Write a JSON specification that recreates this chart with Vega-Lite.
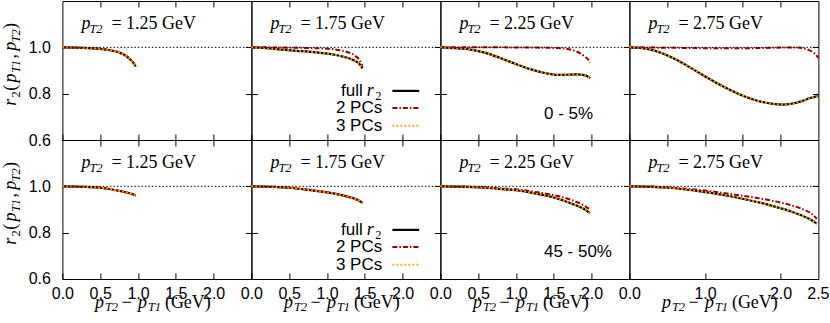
{
"$schema":"https://vega.github.io/schema/vega-lite/v6.json",
"padding":{"left":1.4,"top":0,"right":12,"bottom":4},
"bounds":"flush",
"spacing":0,
"columns":4,
"datasets":{"d":[
{"c":"a","p":1.25,"x":0,"f":1,"q2":1,"q3":1},
{"c":"a","p":1.25,"x":0.25,"f":0.998,"q2":0.998,"q3":0.998},
{"c":"a","p":1.25,"x":0.5,"f":0.993,"q2":0.993,"q3":0.993},
{"c":"a","p":1.25,"x":0.6,"f":0.989,"q2":0.989,"q3":0.989},
{"c":"a","p":1.25,"x":0.7,"f":0.983,"q2":0.983,"q3":0.983},
{"c":"a","p":1.25,"x":0.76,"f":0.977,"q2":0.977,"q3":0.977},
{"c":"a","p":1.25,"x":0.8,"f":0.971,"q2":0.971,"q3":0.971},
{"c":"a","p":1.25,"x":0.85,"f":0.961,"q2":0.961,"q3":0.961},
{"c":"a","p":1.25,"x":0.9,"f":0.947,"q2":0.947,"q3":0.947},
{"c":"a","p":1.25,"x":0.94,"f":0.933,"q2":0.933,"q3":0.933},
{"c":"a","p":1.25,"x":0.97,"f":0.917,"q2":0.917,"q3":0.917},
{"c":"a","p":1.75,"x":0,"f":1,"q2":1,"q3":1},
{"c":"a","p":1.75,"x":0.2,"f":0.996,"q2":1,"q3":0.996},
{"c":"a","p":1.75,"x":0.4,"f":0.99,"q2":0.999,"q3":0.99},
{"c":"a","p":1.75,"x":0.6,"f":0.985,"q2":0.998,"q3":0.985},
{"c":"a","p":1.75,"x":0.86,"f":0.978,"q2":0.996,"q3":0.978},
{"c":"a","p":1.75,"x":1.0,"f":0.973,"q2":0.994,"q3":0.973},
{"c":"a","p":1.75,"x":1.1,"f":0.968,"q2":0.991,"q3":0.968},
{"c":"a","p":1.75,"x":1.21,"f":0.96,"q2":0.985,"q3":0.96},
{"c":"a","p":1.75,"x":1.3,"f":0.952,"q2":0.976,"q3":0.952},
{"c":"a","p":1.75,"x":1.38,"f":0.94,"q2":0.962,"q3":0.94},
{"c":"a","p":1.75,"x":1.43,"f":0.928,"q2":0.945,"q3":0.928},
{"c":"a","p":1.75,"x":1.47,"f":0.909,"q2":0.918,"q3":0.909},
{"c":"a","p":2.25,"x":0,"f":1,"q2":1,"q3":1},
{"c":"a","p":2.25,"x":0.2,"f":0.996,"q2":1,"q3":0.996},
{"c":"a","p":2.25,"x":0.4,"f":0.99,"q2":1,"q3":0.99},
{"c":"a","p":2.25,"x":0.6,"f":0.976,"q2":1,"q3":0.976},
{"c":"a","p":2.25,"x":0.8,"f":0.953,"q2":1,"q3":0.953},
{"c":"a","p":2.25,"x":1.0,"f":0.928,"q2":0.999,"q3":0.928},
{"c":"a","p":2.25,"x":1.2,"f":0.905,"q2":0.999,"q3":0.905},
{"c":"a","p":2.25,"x":1.4,"f":0.888,"q2":0.998,"q3":0.888},
{"c":"a","p":2.25,"x":1.55,"f":0.881,"q2":0.997,"q3":0.881},
{"c":"a","p":2.25,"x":1.7,"f":0.882,"q2":0.992,"q3":0.882},
{"c":"a","p":2.25,"x":1.8,"f":0.883,"q2":0.982,"q3":0.883},
{"c":"a","p":2.25,"x":1.9,"f":0.88,"q2":0.963,"q3":0.88},
{"c":"a","p":2.25,"x":1.95,"f":0.874,"q2":0.949,"q3":0.874},
{"c":"a","p":2.25,"x":1.98,"f":0.867,"q2":0.934,"q3":0.867},
{"c":"a","p":2.75,"x":0,"f":1,"q2":1,"q3":1},
{"c":"a","p":2.75,"x":0.15,"f":0.997,"q2":1,"q3":0.997},
{"c":"a","p":2.75,"x":0.31,"f":0.988,"q2":0.999,"q3":0.988},
{"c":"a","p":2.75,"x":0.57,"f":0.955,"q2":0.998,"q3":0.955},
{"c":"a","p":2.75,"x":0.84,"f":0.906,"q2":0.997,"q3":0.906},
{"c":"a","p":2.75,"x":1.06,"f":0.863,"q2":0.996,"q3":0.863},
{"c":"a","p":2.75,"x":1.28,"f":0.824,"q2":0.996,"q3":0.824},
{"c":"a","p":2.75,"x":1.5,"f":0.791,"q2":0.996,"q3":0.791},
{"c":"a","p":2.75,"x":1.72,"f":0.767,"q2":0.997,"q3":0.767},
{"c":"a","p":2.75,"x":1.9,"f":0.756,"q2":0.998,"q3":0.756},
{"c":"a","p":2.75,"x":2.03,"f":0.753,"q2":0.999,"q3":0.753},
{"c":"a","p":2.75,"x":2.21,"f":0.761,"q2":0.999,"q3":0.761},
{"c":"a","p":2.75,"x":2.3,"f":0.77,"q2":0.996,"q3":0.77},
{"c":"a","p":2.75,"x":2.39,"f":0.781,"q2":0.986,"q3":0.781},
{"c":"a","p":2.75,"x":2.45,"f":0.786,"q2":0.973,"q3":0.786},
{"c":"a","p":2.75,"x":2.5,"f":0.79,"q2":0.955,"q3":0.79},
{"c":"b","p":1.25,"x":0,"f":1,"q2":1,"q3":1},
{"c":"b","p":1.25,"x":0.25,"f":0.998,"q2":0.998,"q3":0.998},
{"c":"b","p":1.25,"x":0.5,"f":0.994,"q2":0.994,"q3":0.994},
{"c":"b","p":1.25,"x":0.76,"f":0.98,"q2":0.98,"q3":0.98},
{"c":"b","p":1.25,"x":0.9,"f":0.969,"q2":0.969,"q3":0.969},
{"c":"b","p":1.25,"x":0.97,"f":0.961,"q2":0.961,"q3":0.961},
{"c":"b","p":1.75,"x":0,"f":1,"q2":1,"q3":1},
{"c":"b","p":1.75,"x":0.25,"f":0.998,"q2":0.998,"q3":0.998},
{"c":"b","p":1.75,"x":0.5,"f":0.994,"q2":0.994,"q3":0.994},
{"c":"b","p":1.75,"x":0.75,"f":0.985,"q2":0.985,"q3":0.985},
{"c":"b","p":1.75,"x":1.0,"f":0.974,"q2":0.974,"q3":0.974},
{"c":"b","p":1.75,"x":1.15,"f":0.965,"q2":0.965,"q3":0.965},
{"c":"b","p":1.75,"x":1.3,"f":0.953,"q2":0.953,"q3":0.953},
{"c":"b","p":1.75,"x":1.4,"f":0.942,"q2":0.942,"q3":0.942},
{"c":"b","p":1.75,"x":1.47,"f":0.929,"q2":0.929,"q3":0.929},
{"c":"b","p":2.25,"x":0,"f":1,"q2":1,"q3":1},
{"c":"b","p":2.25,"x":0.3,"f":0.998,"q2":0.999,"q3":0.998},
{"c":"b","p":2.25,"x":0.61,"f":0.994,"q2":0.995,"q3":0.994},
{"c":"b","p":2.25,"x":0.85,"f":0.987,"q2":0.99,"q3":0.987},
{"c":"b","p":2.25,"x":1.05,"f":0.981,"q2":0.986,"q3":0.981},
{"c":"b","p":2.25,"x":1.25,"f":0.969,"q2":0.976,"q3":0.969},
{"c":"b","p":2.25,"x":1.49,"f":0.953,"q2":0.963,"q3":0.953},
{"c":"b","p":2.25,"x":1.75,"f":0.924,"q2":0.939,"q3":0.924},
{"c":"b","p":2.25,"x":1.9,"f":0.902,"q2":0.917,"q3":0.902},
{"c":"b","p":2.25,"x":1.98,"f":0.884,"q2":0.9,"q3":0.884},
{"c":"b","p":2.75,"x":0,"f":1,"q2":1,"q3":1},
{"c":"b","p":2.75,"x":0.3,"f":0.998,"q2":0.999,"q3":0.998},
{"c":"b","p":2.75,"x":0.52,"f":0.994,"q2":0.995,"q3":0.994},
{"c":"b","p":2.75,"x":0.96,"f":0.977,"q2":0.983,"q3":0.977},
{"c":"b","p":2.75,"x":1.4,"f":0.953,"q2":0.964,"q3":0.953},
{"c":"b","p":2.75,"x":1.84,"f":0.92,"q2":0.941,"q3":0.92},
{"c":"b","p":2.75,"x":2.1,"f":0.896,"q2":0.922,"q3":0.896},
{"c":"b","p":2.75,"x":2.28,"f":0.874,"q2":0.903,"q3":0.874},
{"c":"b","p":2.75,"x":2.4,"f":0.856,"q2":0.884,"q3":0.856},
{"c":"b","p":2.75,"x":2.48,"f":0.839,"q2":0.86,"q3":0.839}
]},
"concat":[
{"width":189,"height":139,"resolve":{"axis":{"x":"independent","y":"independent"}},"layer":[
 {"layer":[
  {"data":{"name":"d"},"transform":[{"filter":"datum.c=='a' && datum.p==1.25"}],"layer":[
   {"mark":{"type":"line","color":"black","strokeWidth":2.2,"interpolate":"monotone"},"encoding":{"x":{"field":"x","type":"quantitative","scale":{"domain":[0,2.5],"nice":false,"zero":false},"axis":{"values":[0,0.5,1,1.5,2],"labels":false,"title":null}},"y":{"field":"f","type":"quantitative","scale":{"domain":[0.6,1.2],"nice":false,"zero":false},"axis":{"values":[0.6,0.8,1],"format":".1f","title":null}}}},
   {"mark":{"type":"line","color":"#990000","strokeWidth":2,"strokeDash":[5,2,1.5,2],"interpolate":"monotone"},"encoding":{"x":{"field":"x","type":"quantitative"},"y":{"field":"q2","type":"quantitative"}}},
   {"mark":{"type":"line","color":"#FFA500","strokeWidth":2,"strokeDash":[1.8,2.2],"interpolate":"monotone"},"encoding":{"x":{"field":"x","type":"quantitative"},"y":{"field":"q3","type":"quantitative"}}}
  ]},
  {"data":{"values":[{}]},"mark":{"type":"rule","strokeDash":[1.5,2],"strokeWidth":1,"color":"black"},"encoding":{"y":{"datum":1,"type":"quantitative"}}},
  {"data":{"values":[{}]},"encoding":{"x":{"datum":0,"type":"quantitative"},"y":{"datum":1.1,"type":"quantitative"}},"layer":[
   {"mark":{"type":"text","text":"p","style":"mi","dx":19,"dy":5}},
   {"mark":{"type":"text","text":"T2","style":"sub","dx":27,"dy":8.5}},
   {"mark":{"type":"text","text":"= 1.25 GeV","style":"rm","dx":49,"dy":5}}
  ]},
  {"data":{"values":[{}]},"encoding":{"x":{"datum":0,"type":"quantitative"},"y":{"datum":0.9,"type":"quantitative"}},"layer":[
   {"mark":{"type":"text","text":"r","style":"mi","angle":270,"dx":-35.3,"dy":-46}},
   {"mark":{"type":"text","text":"2","style":"subr","angle":270,"dx":-27,"dy":-42.3}},
   {"mark":{"type":"text","text":"(","style":"rm","angle":270,"dx":-20.3,"dy":-46}},
   {"mark":{"type":"text","text":"p","style":"mi","angle":270,"dx":-12,"dy":-46}},
   {"mark":{"type":"text","text":"T1","style":"sub","angle":270,"dx":-2.6,"dy":-42.3}},
   {"mark":{"type":"text","text":",","style":"rm","angle":270,"dx":12,"dy":-46}},
   {"mark":{"type":"text","text":"p","style":"mi","angle":270,"dx":19.7,"dy":-46}},
   {"mark":{"type":"text","text":"T2","style":"sub","angle":270,"dx":28,"dy":-42.3}},
   {"mark":{"type":"text","text":")","style":"rm","angle":270,"dx":41.4,"dy":-46}}
  ]}
 ]},
 {"data":{"values":[{}]},"mark":{"type":"point","opacity":0},"encoding":{"x":{"datum":0,"type":"quantitative","axis":{"orient":"top","labels":false,"values":[0.5,1,1.5,2],"title":null}},"y":{"datum":1,"type":"quantitative","axis":{"orient":"right","labels":false,"values":[0.8,1],"title":null}}}}
]},
{"width":189,"height":139,"resolve":{"axis":{"x":"independent","y":"independent"}},"layer":[
 {"layer":[
  {"data":{"name":"d"},"transform":[{"filter":"datum.c=='a' && datum.p==1.75"}],"layer":[
   {"mark":{"type":"line","color":"black","strokeWidth":2.2,"interpolate":"monotone"},"encoding":{"x":{"field":"x","type":"quantitative","scale":{"domain":[0,2.5],"nice":false,"zero":false},"axis":{"values":[0,0.5,1,1.5,2],"labels":false,"title":null}},"y":{"field":"f","type":"quantitative","scale":{"domain":[0.6,1.2],"nice":false,"zero":false},"axis":{"values":[0.6,0.8,1],"labels":false,"title":null}}}},
   {"mark":{"type":"line","color":"#990000","strokeWidth":2,"strokeDash":[5,2,1.5,2],"interpolate":"monotone"},"encoding":{"x":{"field":"x","type":"quantitative"},"y":{"field":"q2","type":"quantitative"}}},
   {"mark":{"type":"line","color":"#FFA500","strokeWidth":2,"strokeDash":[1.8,2.2],"interpolate":"monotone"},"encoding":{"x":{"field":"x","type":"quantitative"},"y":{"field":"q3","type":"quantitative"}}}
  ]},
  {"data":{"values":[{}]},"mark":{"type":"rule","strokeDash":[1.5,2],"strokeWidth":1,"color":"black"},"encoding":{"y":{"datum":1,"type":"quantitative"}}},
  {"data":{"values":[{}]},"encoding":{"x":{"datum":0,"type":"quantitative"},"y":{"datum":1.1,"type":"quantitative"}},"layer":[
   {"mark":{"type":"text","text":"p","style":"mi","dx":19,"dy":5}},
   {"mark":{"type":"text","text":"T2","style":"sub","dx":27,"dy":8.5}},
   {"mark":{"type":"text","text":"= 1.75 GeV","style":"rm","dx":49,"dy":5}}
  ]},
  {"data":{"values":[{}]},"encoding":{"x":{"datum":1.75,"type":"quantitative"}},"layer":[
   {"mark":{"type":"text","text":"full","style":"sans","align":"right","baseline":"middle","dx":-21},"encoding":{"y":{"datum":0.812,"type":"quantitative"}}},
   {"mark":{"type":"text","text":"r","style":"mi","baseline":"middle","dx":-17},"encoding":{"y":{"datum":0.812,"type":"quantitative"}}},
   {"mark":{"type":"text","text":"2","style":"subr","baseline":"middle","dx":-8.5,"dy":5},"encoding":{"y":{"datum":0.812,"type":"quantitative"}}},
   {"mark":{"type":"text","text":"2 PCs","style":"sans","align":"right","baseline":"middle","dx":-1.5},"encoding":{"y":{"datum":0.738,"type":"quantitative"}}},
   {"mark":{"type":"text","text":"3 PCs","style":"sans","align":"right","baseline":"middle","dx":-1.5},"encoding":{"y":{"datum":0.662,"type":"quantitative"}}},
   {"mark":{"type":"rule","color":"black","strokeWidth":2.2},"encoding":{"x":{"datum":1.865,"type":"quantitative"},"x2":{"datum":2.22},"y":{"datum":0.812,"type":"quantitative"}}},
   {"mark":{"type":"rule","color":"#990000","strokeWidth":2,"strokeDash":[5,2,1.5,2]},"encoding":{"x":{"datum":1.865,"type":"quantitative"},"x2":{"datum":2.22},"y":{"datum":0.738,"type":"quantitative"}}},
   {"mark":{"type":"rule","color":"#FFA500","strokeWidth":2,"strokeDash":[1.8,2.2]},"encoding":{"x":{"datum":1.865,"type":"quantitative"},"x2":{"datum":2.22},"y":{"datum":0.662,"type":"quantitative"}}}
  ]}
 ]},
 {"data":{"values":[{}]},"mark":{"type":"point","opacity":0},"encoding":{"x":{"datum":0,"type":"quantitative","axis":{"orient":"top","labels":false,"values":[0.5,1,1.5,2],"title":null}},"y":{"datum":1,"type":"quantitative","axis":{"orient":"right","labels":false,"values":[0.8,1],"title":null}}}}
]},
{"width":189,"height":139,"resolve":{"axis":{"x":"independent","y":"independent"}},"layer":[
 {"layer":[
  {"data":{"name":"d"},"transform":[{"filter":"datum.c=='a' && datum.p==2.25"}],"layer":[
   {"mark":{"type":"line","color":"black","strokeWidth":2.2,"interpolate":"monotone"},"encoding":{"x":{"field":"x","type":"quantitative","scale":{"domain":[0,2.5],"nice":false,"zero":false},"axis":{"values":[0,0.5,1,1.5,2],"labels":false,"title":null}},"y":{"field":"f","type":"quantitative","scale":{"domain":[0.6,1.2],"nice":false,"zero":false},"axis":{"values":[0.6,0.8,1],"labels":false,"title":null}}}},
   {"mark":{"type":"line","color":"#990000","strokeWidth":2,"strokeDash":[5,2,1.5,2],"interpolate":"monotone"},"encoding":{"x":{"field":"x","type":"quantitative"},"y":{"field":"q2","type":"quantitative"}}},
   {"mark":{"type":"line","color":"#FFA500","strokeWidth":2,"strokeDash":[1.8,2.2],"interpolate":"monotone"},"encoding":{"x":{"field":"x","type":"quantitative"},"y":{"field":"q3","type":"quantitative"}}}
  ]},
  {"data":{"values":[{}]},"mark":{"type":"rule","strokeDash":[1.5,2],"strokeWidth":1,"color":"black"},"encoding":{"y":{"datum":1,"type":"quantitative"}}},
  {"data":{"values":[{}]},"encoding":{"x":{"datum":0,"type":"quantitative"},"y":{"datum":1.1,"type":"quantitative"}},"layer":[
   {"mark":{"type":"text","text":"p","style":"mi","dx":19,"dy":5}},
   {"mark":{"type":"text","text":"T2","style":"sub","dx":27,"dy":8.5}},
   {"mark":{"type":"text","text":"= 2.25 GeV","style":"rm","dx":49,"dy":5}}
  ]},
  {"data":{"values":[{}]},"mark":{"type":"text","text":"0 - 5%","style":"sans","baseline":"middle"},"encoding":{"x":{"datum":1.37,"type":"quantitative"},"y":{"datum":0.714,"type":"quantitative"}}}
 ]},
 {"data":{"values":[{}]},"mark":{"type":"point","opacity":0},"encoding":{"x":{"datum":0,"type":"quantitative","axis":{"orient":"top","labels":false,"values":[0.5,1,1.5,2],"title":null}},"y":{"datum":1,"type":"quantitative","axis":{"orient":"right","labels":false,"values":[0.8,1],"title":null}}}}
]},
{"width":189,"height":139,"resolve":{"axis":{"x":"independent","y":"independent"}},"layer":[
 {"layer":[
  {"data":{"name":"d"},"transform":[{"filter":"datum.c=='a' && datum.p==2.75"}],"layer":[
   {"mark":{"type":"line","color":"black","strokeWidth":2.2,"interpolate":"monotone"},"encoding":{"x":{"field":"x","type":"quantitative","scale":{"domain":[0,2.5],"nice":false,"zero":false},"axis":{"values":[0,0.5,1,1.5,2],"labels":false,"title":null}},"y":{"field":"f","type":"quantitative","scale":{"domain":[0.6,1.2],"nice":false,"zero":false},"axis":{"values":[0.6,0.8,1],"labels":false,"title":null}}}},
   {"mark":{"type":"line","color":"#990000","strokeWidth":2,"strokeDash":[5,2,1.5,2],"interpolate":"monotone"},"encoding":{"x":{"field":"x","type":"quantitative"},"y":{"field":"q2","type":"quantitative"}}},
   {"mark":{"type":"line","color":"#FFA500","strokeWidth":2,"strokeDash":[1.8,2.2],"interpolate":"monotone"},"encoding":{"x":{"field":"x","type":"quantitative"},"y":{"field":"q3","type":"quantitative"}}}
  ]},
  {"data":{"values":[{}]},"mark":{"type":"rule","strokeDash":[1.5,2],"strokeWidth":1,"color":"black"},"encoding":{"y":{"datum":1,"type":"quantitative"}}},
  {"data":{"values":[{}]},"encoding":{"x":{"datum":0,"type":"quantitative"},"y":{"datum":1.1,"type":"quantitative"}},"layer":[
   {"mark":{"type":"text","text":"p","style":"mi","dx":19,"dy":5}},
   {"mark":{"type":"text","text":"T2","style":"sub","dx":27,"dy":8.5}},
   {"mark":{"type":"text","text":"= 2.75 GeV","style":"rm","dx":49,"dy":5}}
  ]}
 ]},
 {"data":{"values":[{}]},"mark":{"type":"point","opacity":0},"encoding":{"x":{"datum":0,"type":"quantitative","axis":{"orient":"top","labels":false,"values":[0.5,1,1.5,2],"title":null}},"y":{"datum":1,"type":"quantitative","axis":{"orient":"right","labels":false,"values":[0.8,1],"title":null}}}}
]},
{"width":189,"height":139,"resolve":{"axis":{"x":"independent","y":"independent"}},"layer":[
 {"layer":[
  {"data":{"name":"d"},"transform":[{"filter":"datum.c=='b' && datum.p==1.25"}],"layer":[
   {"mark":{"type":"line","color":"black","strokeWidth":2.2,"interpolate":"monotone"},"encoding":{"x":{"field":"x","type":"quantitative","scale":{"domain":[0,2.5],"nice":false,"zero":false},"axis":{"values":[0,0.5,1,1.5,2],"format":".1f","title":null}},"y":{"field":"f","type":"quantitative","scale":{"domain":[0.6,1.2],"nice":false,"zero":false},"axis":{"values":[0.6,0.8,1],"format":".1f","title":null}}}},
   {"mark":{"type":"line","color":"#990000","strokeWidth":2,"strokeDash":[5,2,1.5,2],"interpolate":"monotone"},"encoding":{"x":{"field":"x","type":"quantitative"},"y":{"field":"q2","type":"quantitative"}}},
   {"mark":{"type":"line","color":"#FFA500","strokeWidth":2,"strokeDash":[1.8,2.2],"interpolate":"monotone"},"encoding":{"x":{"field":"x","type":"quantitative"},"y":{"field":"q3","type":"quantitative"}}}
  ]},
  {"data":{"values":[{}]},"mark":{"type":"rule","strokeDash":[1.5,2],"strokeWidth":1,"color":"black"},"encoding":{"y":{"datum":1,"type":"quantitative"}}},
  {"data":{"values":[{}]},"encoding":{"x":{"datum":0,"type":"quantitative"},"y":{"datum":1.1,"type":"quantitative"}},"layer":[
   {"mark":{"type":"text","text":"p","style":"mi","dx":19,"dy":5}},
   {"mark":{"type":"text","text":"T2","style":"sub","dx":27,"dy":8.5}},
   {"mark":{"type":"text","text":"= 1.25 GeV","style":"rm","dx":49,"dy":5}}
  ]},
  {"data":{"values":[{}]},"encoding":{"x":{"datum":0,"type":"quantitative"},"y":{"datum":0.9,"type":"quantitative"}},"layer":[
   {"mark":{"type":"text","text":"r","style":"mi","angle":270,"dx":-35.3,"dy":-46}},
   {"mark":{"type":"text","text":"2","style":"subr","angle":270,"dx":-27,"dy":-42.3}},
   {"mark":{"type":"text","text":"(","style":"rm","angle":270,"dx":-20.3,"dy":-46}},
   {"mark":{"type":"text","text":"p","style":"mi","angle":270,"dx":-12,"dy":-46}},
   {"mark":{"type":"text","text":"T1","style":"sub","angle":270,"dx":-2.6,"dy":-42.3}},
   {"mark":{"type":"text","text":",","style":"rm","angle":270,"dx":12,"dy":-46}},
   {"mark":{"type":"text","text":"p","style":"mi","angle":270,"dx":19.7,"dy":-46}},
   {"mark":{"type":"text","text":"T2","style":"sub","angle":270,"dx":28,"dy":-42.3}},
   {"mark":{"type":"text","text":")","style":"rm","angle":270,"dx":41.4,"dy":-46}}
  ]},
  {"data":{"values":[{}]},"encoding":{"x":{"datum":1.25,"type":"quantitative"},"y":{"datum":0.6,"type":"quantitative"}},"layer":[
   {"mark":{"type":"text","text":"p","style":"mi","dx":-62,"dy":29}},
   {"mark":{"type":"text","text":"T2","style":"sub","dx":-52,"dy":32.5}},
   {"mark":{"type":"text","text":"−","style":"rm","dx":-35.5,"dy":29}},
   {"mark":{"type":"text","text":"p","style":"mi","dx":-19,"dy":29}},
   {"mark":{"type":"text","text":"T1","style":"sub","dx":-9,"dy":32.5}},
   {"mark":{"type":"text","text":"(GeV)","style":"rm","dx":8,"dy":29}}
  ]}
 ]},
 {"data":{"values":[{}]},"mark":{"type":"point","opacity":0},"encoding":{"x":{"datum":0,"type":"quantitative","axis":{"orient":"top","labels":false,"values":[0.5,1,1.5,2],"title":null}},"y":{"datum":1,"type":"quantitative","axis":{"orient":"right","labels":false,"values":[0.8,1],"title":null}}}}
]},
{"width":189,"height":139,"resolve":{"axis":{"x":"independent","y":"independent"}},"layer":[
 {"layer":[
  {"data":{"name":"d"},"transform":[{"filter":"datum.c=='b' && datum.p==1.75"}],"layer":[
   {"mark":{"type":"line","color":"black","strokeWidth":2.2,"interpolate":"monotone"},"encoding":{"x":{"field":"x","type":"quantitative","scale":{"domain":[0,2.5],"nice":false,"zero":false},"axis":{"values":[0,0.5,1,1.5,2],"format":".1f","title":null}},"y":{"field":"f","type":"quantitative","scale":{"domain":[0.6,1.2],"nice":false,"zero":false},"axis":{"values":[0.6,0.8,1],"labels":false,"title":null}}}},
   {"mark":{"type":"line","color":"#990000","strokeWidth":2,"strokeDash":[5,2,1.5,2],"interpolate":"monotone"},"encoding":{"x":{"field":"x","type":"quantitative"},"y":{"field":"q2","type":"quantitative"}}},
   {"mark":{"type":"line","color":"#FFA500","strokeWidth":2,"strokeDash":[1.8,2.2],"interpolate":"monotone"},"encoding":{"x":{"field":"x","type":"quantitative"},"y":{"field":"q3","type":"quantitative"}}}
  ]},
  {"data":{"values":[{}]},"mark":{"type":"rule","strokeDash":[1.5,2],"strokeWidth":1,"color":"black"},"encoding":{"y":{"datum":1,"type":"quantitative"}}},
  {"data":{"values":[{}]},"encoding":{"x":{"datum":0,"type":"quantitative"},"y":{"datum":1.1,"type":"quantitative"}},"layer":[
   {"mark":{"type":"text","text":"p","style":"mi","dx":19,"dy":5}},
   {"mark":{"type":"text","text":"T2","style":"sub","dx":27,"dy":8.5}},
   {"mark":{"type":"text","text":"= 1.75 GeV","style":"rm","dx":49,"dy":5}}
  ]},
  {"data":{"values":[{}]},"encoding":{"x":{"datum":1.75,"type":"quantitative"}},"layer":[
   {"mark":{"type":"text","text":"full","style":"sans","align":"right","baseline":"middle","dx":-21},"encoding":{"y":{"datum":0.812,"type":"quantitative"}}},
   {"mark":{"type":"text","text":"r","style":"mi","baseline":"middle","dx":-17},"encoding":{"y":{"datum":0.812,"type":"quantitative"}}},
   {"mark":{"type":"text","text":"2","style":"subr","baseline":"middle","dx":-8.5,"dy":5},"encoding":{"y":{"datum":0.812,"type":"quantitative"}}},
   {"mark":{"type":"text","text":"2 PCs","style":"sans","align":"right","baseline":"middle","dx":-1.5},"encoding":{"y":{"datum":0.738,"type":"quantitative"}}},
   {"mark":{"type":"text","text":"3 PCs","style":"sans","align":"right","baseline":"middle","dx":-1.5},"encoding":{"y":{"datum":0.662,"type":"quantitative"}}},
   {"mark":{"type":"rule","color":"black","strokeWidth":2.2},"encoding":{"x":{"datum":1.865,"type":"quantitative"},"x2":{"datum":2.22},"y":{"datum":0.812,"type":"quantitative"}}},
   {"mark":{"type":"rule","color":"#990000","strokeWidth":2,"strokeDash":[5,2,1.5,2]},"encoding":{"x":{"datum":1.865,"type":"quantitative"},"x2":{"datum":2.22},"y":{"datum":0.738,"type":"quantitative"}}},
   {"mark":{"type":"rule","color":"#FFA500","strokeWidth":2,"strokeDash":[1.8,2.2]},"encoding":{"x":{"datum":1.865,"type":"quantitative"},"x2":{"datum":2.22},"y":{"datum":0.662,"type":"quantitative"}}}
  ]},
  {"data":{"values":[{}]},"encoding":{"x":{"datum":1.25,"type":"quantitative"},"y":{"datum":0.6,"type":"quantitative"}},"layer":[
   {"mark":{"type":"text","text":"p","style":"mi","dx":-62,"dy":29}},
   {"mark":{"type":"text","text":"T2","style":"sub","dx":-52,"dy":32.5}},
   {"mark":{"type":"text","text":"−","style":"rm","dx":-35.5,"dy":29}},
   {"mark":{"type":"text","text":"p","style":"mi","dx":-19,"dy":29}},
   {"mark":{"type":"text","text":"T1","style":"sub","dx":-9,"dy":32.5}},
   {"mark":{"type":"text","text":"(GeV)","style":"rm","dx":8,"dy":29}}
  ]}
 ]},
 {"data":{"values":[{}]},"mark":{"type":"point","opacity":0},"encoding":{"x":{"datum":0,"type":"quantitative","axis":{"orient":"top","labels":false,"values":[0.5,1,1.5,2],"title":null}},"y":{"datum":1,"type":"quantitative","axis":{"orient":"right","labels":false,"values":[0.8,1],"title":null}}}}
]},
{"width":189,"height":139,"resolve":{"axis":{"x":"independent","y":"independent"}},"layer":[
 {"layer":[
  {"data":{"name":"d"},"transform":[{"filter":"datum.c=='b' && datum.p==2.25"}],"layer":[
   {"mark":{"type":"line","color":"black","strokeWidth":2.2,"interpolate":"monotone"},"encoding":{"x":{"field":"x","type":"quantitative","scale":{"domain":[0,2.5],"nice":false,"zero":false},"axis":{"values":[0,0.5,1,1.5,2],"format":".1f","title":null}},"y":{"field":"f","type":"quantitative","scale":{"domain":[0.6,1.2],"nice":false,"zero":false},"axis":{"values":[0.6,0.8,1],"labels":false,"title":null}}}},
   {"mark":{"type":"line","color":"#990000","strokeWidth":2,"strokeDash":[5,2,1.5,2],"interpolate":"monotone"},"encoding":{"x":{"field":"x","type":"quantitative"},"y":{"field":"q2","type":"quantitative"}}},
   {"mark":{"type":"line","color":"#FFA500","strokeWidth":2,"strokeDash":[1.8,2.2],"interpolate":"monotone"},"encoding":{"x":{"field":"x","type":"quantitative"},"y":{"field":"q3","type":"quantitative"}}}
  ]},
  {"data":{"values":[{}]},"mark":{"type":"rule","strokeDash":[1.5,2],"strokeWidth":1,"color":"black"},"encoding":{"y":{"datum":1,"type":"quantitative"}}},
  {"data":{"values":[{}]},"encoding":{"x":{"datum":0,"type":"quantitative"},"y":{"datum":1.1,"type":"quantitative"}},"layer":[
   {"mark":{"type":"text","text":"p","style":"mi","dx":19,"dy":5}},
   {"mark":{"type":"text","text":"T2","style":"sub","dx":27,"dy":8.5}},
   {"mark":{"type":"text","text":"= 2.25 GeV","style":"rm","dx":49,"dy":5}}
  ]},
  {"data":{"values":[{}]},"mark":{"type":"text","text":"45 - 50%","style":"sans","baseline":"middle"},"encoding":{"x":{"datum":1.37,"type":"quantitative"},"y":{"datum":0.717,"type":"quantitative"}}},
  {"data":{"values":[{}]},"encoding":{"x":{"datum":1.25,"type":"quantitative"},"y":{"datum":0.6,"type":"quantitative"}},"layer":[
   {"mark":{"type":"text","text":"p","style":"mi","dx":-62,"dy":29}},
   {"mark":{"type":"text","text":"T2","style":"sub","dx":-52,"dy":32.5}},
   {"mark":{"type":"text","text":"−","style":"rm","dx":-35.5,"dy":29}},
   {"mark":{"type":"text","text":"p","style":"mi","dx":-19,"dy":29}},
   {"mark":{"type":"text","text":"T1","style":"sub","dx":-9,"dy":32.5}},
   {"mark":{"type":"text","text":"(GeV)","style":"rm","dx":8,"dy":29}}
  ]}
 ]},
 {"data":{"values":[{}]},"mark":{"type":"point","opacity":0},"encoding":{"x":{"datum":0,"type":"quantitative","axis":{"orient":"top","labels":false,"values":[0.5,1,1.5,2],"title":null}},"y":{"datum":1,"type":"quantitative","axis":{"orient":"right","labels":false,"values":[0.8,1],"title":null}}}}
]},
{"width":189,"height":139,"resolve":{"axis":{"x":"independent","y":"independent"}},"layer":[
 {"layer":[
  {"data":{"name":"d"},"transform":[{"filter":"datum.c=='b' && datum.p==2.75"}],"layer":[
   {"mark":{"type":"line","color":"black","strokeWidth":2.2,"interpolate":"monotone"},"encoding":{"x":{"field":"x","type":"quantitative","scale":{"domain":[0,2.5],"nice":false,"zero":false},"axis":{"values":[0,0.5,1,1.5,2,2.5],"format":".1f","title":null}},"y":{"field":"f","type":"quantitative","scale":{"domain":[0.6,1.2],"nice":false,"zero":false},"axis":{"values":[0.6,0.8,1],"labels":false,"title":null}}}},
   {"mark":{"type":"line","color":"#990000","strokeWidth":2,"strokeDash":[5,2,1.5,2],"interpolate":"monotone"},"encoding":{"x":{"field":"x","type":"quantitative"},"y":{"field":"q2","type":"quantitative"}}},
   {"mark":{"type":"line","color":"#FFA500","strokeWidth":2,"strokeDash":[1.8,2.2],"interpolate":"monotone"},"encoding":{"x":{"field":"x","type":"quantitative"},"y":{"field":"q3","type":"quantitative"}}}
  ]},
  {"data":{"values":[{}]},"mark":{"type":"rule","strokeDash":[1.5,2],"strokeWidth":1,"color":"black"},"encoding":{"y":{"datum":1,"type":"quantitative"}}},
  {"data":{"values":[{}]},"encoding":{"x":{"datum":0,"type":"quantitative"},"y":{"datum":1.1,"type":"quantitative"}},"layer":[
   {"mark":{"type":"text","text":"p","style":"mi","dx":19,"dy":5}},
   {"mark":{"type":"text","text":"T2","style":"sub","dx":27,"dy":8.5}},
   {"mark":{"type":"text","text":"= 2.75 GeV","style":"rm","dx":49,"dy":5}}
  ]},
  {"data":{"values":[{}]},"mark":{"type":"text","text":"2.5","font":"Liberation Sans","fontSize":16,"align":"center","baseline":"top","dy":7},"encoding":{"x":{"datum":2.5,"type":"quantitative"},"y":{"datum":0.6,"type":"quantitative"}}},
  {"data":{"values":[{}]},"encoding":{"x":{"datum":1.25,"type":"quantitative"},"y":{"datum":0.6,"type":"quantitative"}},"layer":[
   {"mark":{"type":"text","text":"p","style":"mi","dx":-62,"dy":29}},
   {"mark":{"type":"text","text":"T2","style":"sub","dx":-52,"dy":32.5}},
   {"mark":{"type":"text","text":"−","style":"rm","dx":-35.5,"dy":29}},
   {"mark":{"type":"text","text":"p","style":"mi","dx":-19,"dy":29}},
   {"mark":{"type":"text","text":"T1","style":"sub","dx":-9,"dy":32.5}},
   {"mark":{"type":"text","text":"(GeV)","style":"rm","dx":8,"dy":29}}
  ]}
 ]},
 {"data":{"values":[{}]},"mark":{"type":"point","opacity":0},"encoding":{"x":{"datum":0,"type":"quantitative","axis":{"orient":"top","labels":false,"values":[0.5,1,1.5,2],"title":null}},"y":{"datum":1,"type":"quantitative","axis":{"orient":"right","labels":false,"values":[0.8,1],"title":null}}}}
]}
],
"config":{
 "view":{"stroke":"black","strokeWidth":1},
 "axis":{"domain":false,"grid":false,"tickSize":6,"offset":-6,"tickColor":"black","tickWidth":1,"labelFont":"Liberation Sans","labelFontSize":16,"labelColor":"black","labelFlush":false,"labelOverlap":false,"labelBound":false},
 "axisX":{"labelPadding":7},
 "axisY":{"labelPadding":12},
 "text":{"align":"left","baseline":"alphabetic","color":"black"},
 "style":{
  "mi":{"font":"Liberation Serif","fontStyle":"italic","fontSize":18},
  "sub":{"font":"Liberation Serif","fontStyle":"italic","fontSize":12.5},
  "subr":{"font":"Liberation Serif","fontSize":12.5},
  "rm":{"font":"Liberation Serif","fontSize":18},
  "sans":{"font":"Liberation Sans","fontSize":17}
 }
}
}
